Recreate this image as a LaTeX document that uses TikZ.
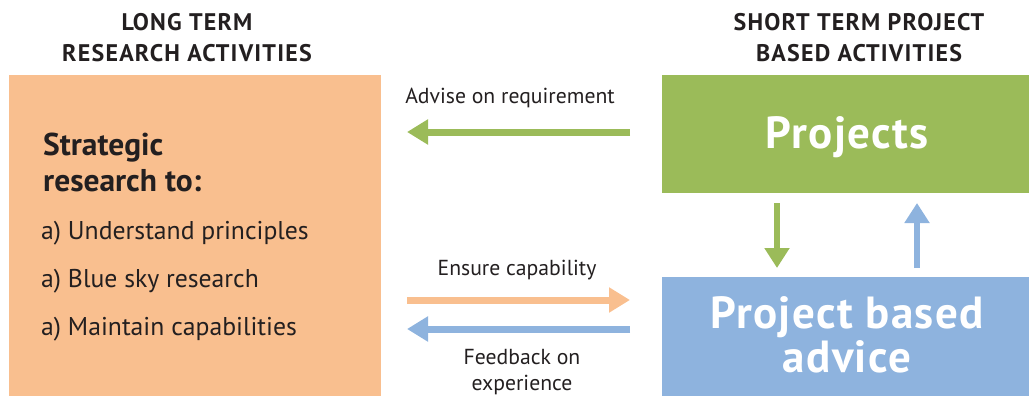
\documentclass[tikz,border=0pt]{standalone}
\usepackage{fontspec}
\setmainfont{PT Sans}
\usetikzlibrary{arrows.meta,calc}
\definecolor{orng}{HTML}{F9BF8F}
\definecolor{grn}{HTML}{9BBB59}
\definecolor{blu}{HTML}{8EB3DE}
\definecolor{ink}{HTML}{231F20}
\begin{document}
\begin{tikzpicture}[x=1pt,y=-1pt,
  box/.style={inner sep=0pt,outer sep=0pt,draw=none},
  hdr/.style={font=\fontsize{24}{31}\selectfont\bfseries\addfontfeature{LetterSpace=5},text=ink,align=center,anchor=base,inner sep=0pt},
  lbl/.style={font=\fontsize{21.7}{26}\selectfont,text=ink,align=center,anchor=base,inner sep=0pt},
  item/.style={font=\fontsize{25.7}{30}\selectfont,text=ink,anchor=base west,inner sep=0pt},
  big/.style={font=\fontsize{45}{44}\selectfont\bfseries\addfontfeature{LetterSpace=3},text=white,align=center,anchor=base,inner sep=0pt},
  harrow/.style={line width=7pt,-{Triangle[length=21pt,width=24pt]}},
  varrow/.style={line width=6pt,-{Triangle[length=20pt,width=24pt]}}]
\useasboundingbox (0,0) rectangle (1029,396);
% boxes
\node[box,fill=orng,minimum width=372pt,minimum height=321pt] (lt) at (195,235.5) {};
\node[box,fill=grn,minimum width=367pt,minimum height=118pt] (proj) at (845.5,134) {};
\node[box,fill=blu,minimum width=367pt,minimum height=119pt] (pba) at (845.5,336.5) {};
% headers
\node[hdr] (h1) at (187,62) {LONG TERM\\RESEARCH ACTIVITIES};
\node[hdr] (h2) at (859,62) {SHORT TERM PROJECT\\BASED ACTIVITIES};
% left text
\node[font=\fontsize{31.5}{36}\selectfont\bfseries,text=ink,anchor=base west,inner sep=0pt,align=left] (strat) at (43,191) {Strategic\\research to:};
\node[item] (i1) at (41,239) {a) Understand principles};
\node[item] (i2) at (41,287) {a) Blue sky research};
\node[item] (i3) at (41,335) {a) Maintain capabilities};
% right text
\node[big] (tproj) at (847,148) {Projects};
\node[big] (tpba) at (847,372) {Project based\\advice};
% arrow labels
\node[lbl] (ladv) at (510,103) {Advise on requirement};
\node[lbl] (lens) at (517,275) {Ensure capability};
\node[lbl] (lfb) at (522,390) {Feedback on\\experience};
% horizontal arrows
\draw[harrow,grn,shorten <=32pt,shorten >=26pt] ($(proj.west)+(0,-2)$) -- ($(lt.east|-proj.west)+(0,-2)$);
\draw[harrow,orng,shorten <=26pt,shorten >=32pt] ($(lt.east|-pba.west)+(0,-36.5)$) -- ($(pba.west)+(0,-36.5)$);
\draw[harrow,blu,shorten <=32pt,shorten >=26pt] ($(pba.west)+(0,-7.5)$) -- ($(lt.east|-pba.west)+(0,-7.5)$);
% vertical arrows
\draw[varrow,grn,shorten <=10pt,shorten >=9pt] ($(proj.south)+(-68.5,0)$) -- ($(pba.north)+(-68.5,0)$);
\draw[varrow,blu,shorten <=9pt,shorten >=10pt] ($(pba.north)+(71.5,0)$) -- ($(proj.south)+(71.5,0)$);
\end{tikzpicture}
\end{document}
